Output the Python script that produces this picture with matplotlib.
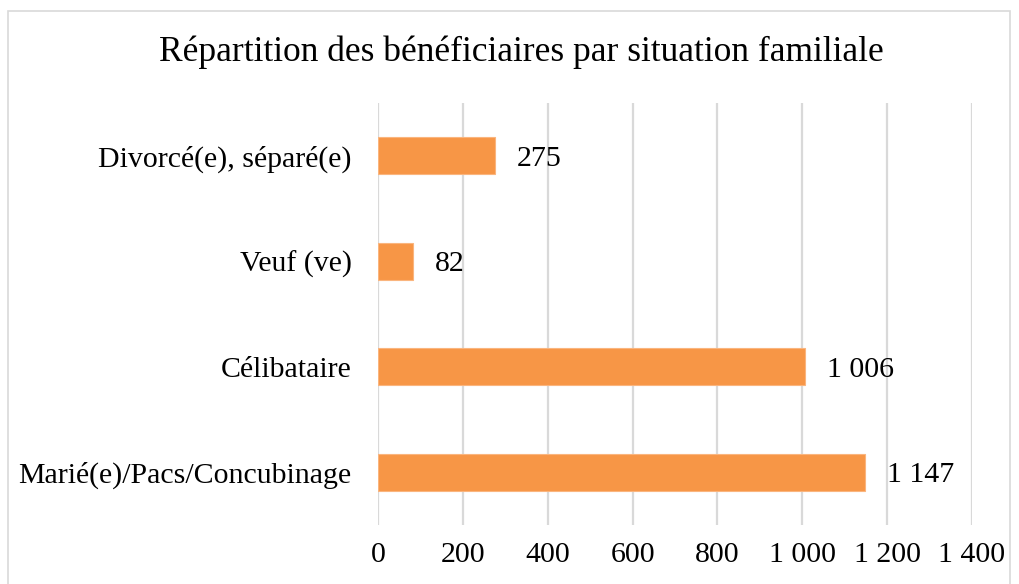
import matplotlib
matplotlib.use("Agg")
import matplotlib.pyplot as plt
from matplotlib.patches import Rectangle

categories = ["Marié(e)/Pacs/Concubinage", "Célibataire", "Veuf (ve)", "Divorcé(e), séparé(e)"]
values = [1147, 1006, 82, 275]
xticks = [0, 200, 400, 600, 800, 1000, 1200, 1400]


def fmt(v):
    # séparateur de milliers à la française
    return f"{v:,}".replace(",", " ")


plt.rcParams["font.family"] = ["Liberation Serif", "DejaVu Serif"]

fig = plt.figure(figsize=(10.19, 5.84), dpi=100)
ax = fig.add_axes([378 / 1019, 1 - 525 / 584, 594 / 1019, 422 / 584])

y = range(len(categories))
ax.barh(y, values, height=0.35, color="#F79646", edgecolor="#FAB57E", linewidth=0.8, zorder=3)
for yi, v in zip(y, values):
    ax.text(v + 52, yi, fmt(v), va="center_baseline", ha="left", fontsize=21.5, color="#000000")

ax.set_xlim(0, 1400)
ax.set_ylim(-0.5, len(categories) - 0.5)
ax.set_xticks(xticks)
ax.set_xticklabels([fmt(t) for t in xticks], fontsize=21.5)
ax.set_yticks(list(y))
ax.set_yticklabels(categories, fontsize=21.5)
ax.tick_params(axis="both", length=0)
ax.tick_params(axis="x", pad=12)
ax.tick_params(axis="y", pad=19)
ax.grid(axis="x", color="#D9D9D9", linewidth=1.6, zorder=0)
for s in ax.spines.values():
    s.set_visible(False)

fig.text(521 / 1019, 1 - 52 / 584, "Répartition des bénéficiaires par situation familiale",
         ha="center", va="center", fontsize=25.5)

fig.patches.append(Rectangle((8 / 1019, -0.05), 1002 / 1019, 1.05 - 11 / 584,
                             transform=fig.transFigure, fill=False,
                             edgecolor="#D9D9D9", linewidth=1.2))

fig.savefig("out.png", dpi=100)
